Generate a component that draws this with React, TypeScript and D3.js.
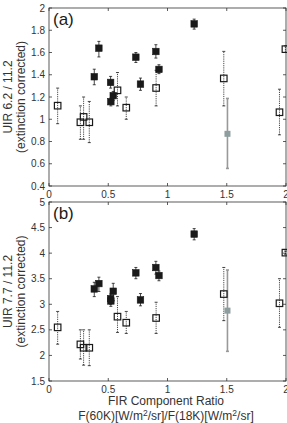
import React from "react";
import * as d3 from "d3";

// FIR component ratio F(60K)/F(18K), shared by both panels
const filledRatio = [1.225, 0.421, 0.382, 0.733, 0.902, 0.928, 0.772, 0.52, 0.542, 0.522];
const openRatio = [0.073, 0.265, 0.292, 0.34, 0.578, 0.652, 0.904, 1.475, 1.945, 1.995];
const grayRatio = [1.506];

// UIR 6.2 / 11.2
const filled62 = [1.857, 1.639, 1.382, 1.558, 1.609, 1.448, 1.316, 1.331, 1.212, 1.158];
const filled62Lo = [1.81, 1.56, 1.31, 1.51, 1.55, 1.41, 1.26, 1.28, 1.17, 1.12];
const filled62Hi = [1.9, 1.7, 1.45, 1.6, 1.67, 1.49, 1.37, 1.385, 1.25, 1.19];
const open62 = [1.122, 0.973, 1.021, 0.973, 1.26, 1.104, 1.281, 1.367, 1.063, 1.63];
const open62Lo = [0.96, 0.82, 0.82, 0.79, 1.12, 1.0, 1.12, 1.12, 0.86, 1.6];
const open62Hi = [1.28, 1.12, 1.2, 1.16, 1.42, 1.2, 1.44, 1.61, 1.27, 1.66];
const gray62 = [0.869];
const gray62Lo = [0.558];
const gray62Hi = [1.187];

// UIR 7.7 / 11.2
const filled77 = [4.373, 3.405, 3.3, 3.614, 3.719, 3.562, 3.085, 3.11, 3.255, 3.065];
const filled77Lo = [4.26, 3.25, 3.15, 3.5, 3.59, 3.46, 2.97, 3.0, 3.07, 2.96];
const filled77Hi = [4.48, 3.53, 3.43, 3.72, 3.84, 3.65, 3.21, 3.2, 3.41, 3.16];
const open77 = [2.549, 2.216, 2.15, 2.15, 2.758, 2.64, 2.732, 3.2, 3.02, 4.01];
const open77Lo = [2.22, 1.93, 1.81, 1.8, 2.45, 2.43, 2.43, 2.68, 2.55, 3.98];
const open77Hi = [2.86, 2.5, 2.5, 2.5, 3.15, 2.86, 3.04, 3.72, 3.5, 4.04];
const gray77 = [2.876];
const gray77Lo = [2.08];
const gray77Hi = [3.67];

const xTicks = [0, 0.5, 1, 1.5, 2];
const xTickLabels = ["0", "0.5", "1", "1.5", "2"];
const topTicks = [0.4, 0.6, 0.8, 1, 1.2, 1.4, 1.6, 1.8, 2];
const topTickLabels = ["0.4", "0.6", "0.8", "1", "1.2", "1.4", "1.6", "1.8", "2"];
const bottomTicks = [1.5, 2, 2.5, 3, 3.5, 4, 4.5, 5];
const bottomTickLabels = ["1.5", "2", "2.5", "3", "3.5", "4", "4.5", "5"];

const FONT = "'Liberation Sans', Arial, Helvetica, sans-serif";
const INK = "#1a1a1a";
const TEXT = "#333";

const x = d3.scaleLinear().domain([0, 2]).range([49, 286]);

type Series = { xs: number[]; ys: number[]; lo: number[]; hi: number[] };

function ErrorBars({ s, y, stroke, width, dash }: { s: Series; y: d3.ScaleLinear<number, number>; stroke: string; width: number; dash?: string }) {
  return (
    <g stroke={stroke} strokeWidth={width} fill="none">
      {s.xs.map((xv, i) => {
        const cx = x(xv);
        return (
          <g key={i}>
            <line x1={cx} x2={cx} y1={y(s.lo[i])} y2={y(s.hi[i])} strokeDasharray={dash} />
            <line x1={cx - 1.5} x2={cx + 1.5} y1={y(s.lo[i])} y2={y(s.lo[i])} />
            <line x1={cx - 1.5} x2={cx + 1.5} y1={y(s.hi[i])} y2={y(s.hi[i])} />
          </g>
        );
      })}
    </g>
  );
}

function Panel(props: {
  top: number;
  bottom: number;
  domain: [number, number];
  ticks: number[];
  tickLabels: string[];
  tag: string;
  label: string;
  filled: Series;
  open: Series;
  gray: Series;
}) {
  const { top, bottom, domain, ticks, tickLabels, tag, label, filled, open, gray } = props;
  const y = d3.scaleLinear().domain(domain).range([bottom, top]);
  const [x0, x1] = x.range();
  const mid = (top + bottom) / 2;
  const sq = 6.5;

  return (
    <g>
      {/* frame with inward ticks on all sides */}
      <rect x={x0} y={top} width={x1 - x0} height={bottom - top} fill="none" stroke={TEXT} strokeWidth={0.8} />
      <g stroke={TEXT} strokeWidth={0.8}>
        {xTicks.map((t) => (
          <g key={t}>
            <line x1={x(t)} x2={x(t)} y1={bottom} y2={bottom - 3} />
            <line x1={x(t)} x2={x(t)} y1={top} y2={top + 3} />
          </g>
        ))}
        {ticks.map((t) => (
          <g key={t}>
            <line x1={x0} x2={x0 + 3} y1={y(t)} y2={y(t)} />
            <line x1={x1} x2={x1 - 3} y1={y(t)} y2={y(t)} />
          </g>
        ))}
      </g>
      <g fontFamily={FONT} fontSize={10} fill={TEXT}>
        {xTicks.map((t, i) => (
          <text key={t} x={x(t)} y={bottom + 11.5} textAnchor="middle">
            {xTickLabels[i]}
          </text>
        ))}
        {ticks.map((t, i) => (
          <text key={t} x={x0 - 4} y={y(t)} dy="0.35em" textAnchor="end">
            {tickLabels[i]}
          </text>
        ))}
      </g>

      <g fontFamily={FONT} fontSize={12} fill={TEXT} textAnchor="middle" transform={`translate(0,${mid}) rotate(-90)`}>
        <text x={0} y={12}>{label}</text>
        <text x={0} y={25}>(extinction corrected)</text>
      </g>
      <text x={53} y={top + 17} fontFamily={FONT} fontSize={17} fill={INK}>
        {tag}
      </text>

      <ErrorBars s={open} y={y} stroke={INK} width={0.8} dash="1.2,1" />
      <ErrorBars s={filled} y={y} stroke={INK} width={0.8} />
      <ErrorBars s={gray} y={y} stroke="#999" width={1.6} />

      {open.xs.map((xv, i) => (
        <rect key={"o" + i} x={x(xv) - sq / 2} y={y(open.ys[i]) - sq / 2} width={sq} height={sq} fill="none" stroke={INK} strokeWidth={1.2} />
      ))}
      {filled.xs.map((xv, i) => (
        <rect key={"f" + i} x={x(xv) - sq / 2} y={y(filled.ys[i]) - sq / 2} width={sq} height={sq} fill={INK} stroke={INK} strokeWidth={0.6} />
      ))}
      {gray.xs.map((xv, i) => (
        <rect key={"g" + i} x={x(xv) - 3} y={y(gray.ys[i]) - 3} width={6} height={6} fill="#8e9d9d" />
      ))}
    </g>
  );
}

export default function App() {
  return (
    <svg width={287} height={423} style={{ position: "absolute", left: 0, top: 0, background: "#fff" }}>
      <Panel
        top={8}
        bottom={186}
        domain={[0.4, 2]}
        ticks={topTicks}
        tickLabels={topTickLabels}
        tag="(a)"
        label="UIR 6.2 / 11.2"
        filled={{ xs: filledRatio, ys: filled62, lo: filled62Lo, hi: filled62Hi }}
        open={{ xs: openRatio, ys: open62, lo: open62Lo, hi: open62Hi }}
        gray={{ xs: grayRatio, ys: gray62, lo: gray62Lo, hi: gray62Hi }}
      />
      <Panel
        top={202}
        bottom={381}
        domain={[1.5, 5]}
        ticks={bottomTicks}
        tickLabels={bottomTickLabels}
        tag="(b)"
        label="UIR 7.7 / 11.2"
        filled={{ xs: filledRatio, ys: filled77, lo: filled77Lo, hi: filled77Hi }}
        open={{ xs: openRatio, ys: open77, lo: open77Lo, hi: open77Hi }}
        gray={{ xs: grayRatio, ys: gray77, lo: gray77Lo, hi: gray77Hi }}
      />
      <g fontFamily={FONT} fontSize={12} fill={TEXT} textAnchor="middle">
        <text x={166} y={404.5}>FIR Component Ratio</text>
        <text x={166} y={419.5}>
          F(60K)[W/m<tspan dy={-4} fontSize={8.5}>2</tspan>
          <tspan dy={4}>/sr]/F(18K)[W/m</tspan>
          <tspan dy={-4} fontSize={8.5}>2</tspan>
          <tspan dy={4}>/sr]</tspan>
        </text>
      </g>
    </svg>
  );
}
